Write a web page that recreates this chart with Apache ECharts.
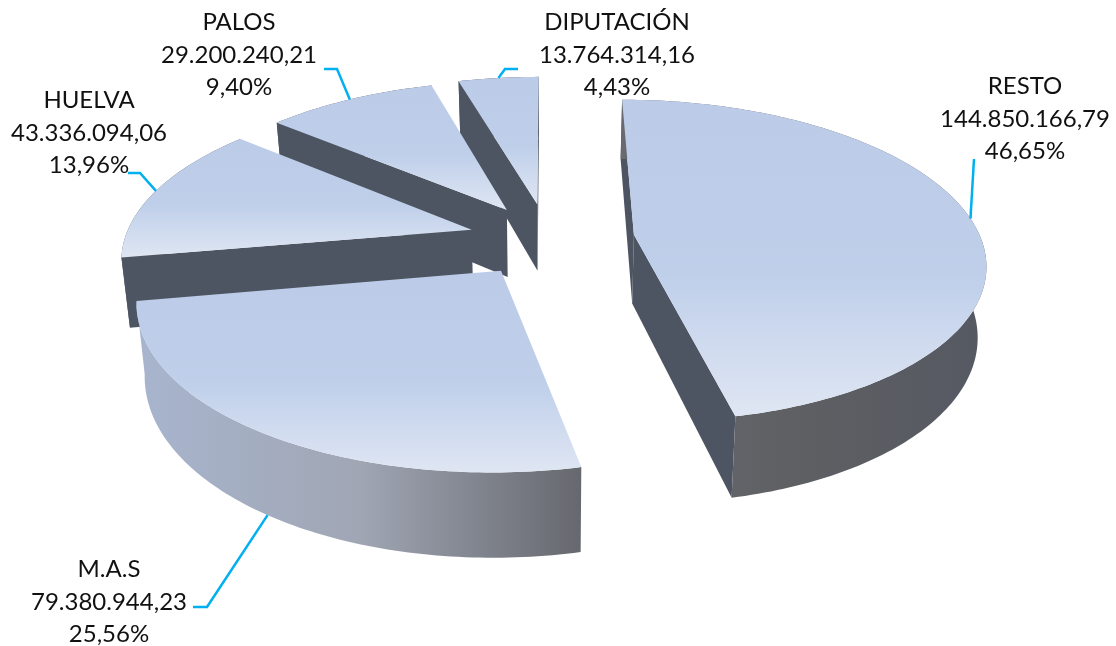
<!DOCTYPE html>
<html>
<head>
<meta charset="utf-8">
<title>Reparto por entidad</title>
<script src="https://cdn.jsdelivr.net/npm/echarts@6/dist/echarts.min.js"></script>
<style>
  html, body { margin: 0; padding: 0; background: #fff; }
  #chart { width: 1116px; height: 646px; }
</style>
</head>
<body>
<div id="chart"></div>
<script>
// clockwise from 12 o'clock
const names = ['RESTO', 'M.A.S', 'HUELVA', 'PALOS', 'DIPUTACIÓN'];
const amounts = [144850166.79, 79380944.23, 43336094.06, 29200240.21, 13764314.16];
const shares = [46.65, 25.56, 13.96, 9.40, 4.43];

// far slices first
const drawOrder = [4, 3, 2, 0, 1];
const explode = [0.25, 0.235, 0.23, 0.225, 0.23];
const wallStops = [
  ['#686a70', '#5e5f63', '#555962'],
  ['#a8b5ce', '#a0a6b4', '#66686e'],
  ['#4e5562', '#4e5562', '#4e5562'],
  ['#4e5562', '#4e5562', '#4e5562'],
  ['#4e5562', '#4e5562', '#4e5562']
];
// label centre and the elbow of its leader line, in pixels
const labelAt = [[1025, 119], [109, 602], [89, 133], [239, 55], [617, 55]];
const leaderAt = [
  [[974, 159]],
  [[193, 607], [207, 607]],
  [[128, 173], [140, 173]],
  [[324, 69], [337, 69]],
  [[518, 69], [505, 69]]
];

const CX = 548;
const CY = 239;
const RX = 347;
const RY = 158;
const PERSP = 0.16;
const DEPTH = 69;
const BOTTOM_SCALE = 0.98;
const CUT_COLOR = '#4e5562';
const LEADER_COLOR = '#00b0f0';

const total = amounts.reduce((a, b) => a + b, 0);
const angles = [];
let run = 0;
amounts.forEach(v => {
  angles.push([run / total * 360, (run + v) / total * 360]);
  run += v;
});

function money(v) {
  const parts = v.toFixed(2).split('.');
  return `${parts[0].replace(/\B(?=(\d{3})+$)/g, '.')},${parts[1]}`;
}

function project(x, y, bottom) {
  const w = 1 + PERSP * y;
  const sx = RX * x / w * (bottom ? BOTTOM_SCALE : 1);
  return [CX + sx, CY - RY * y / w + (bottom ? DEPTH / w : 0)];
}

function rimPoint(i, deg, bottom) {
  const mid = (angles[i][0] + angles[i][1]) / 2 * Math.PI / 180;
  const a = deg * Math.PI / 180;
  return project(explode[i] * Math.sin(mid) + Math.sin(a), explode[i] * Math.cos(mid) + Math.cos(a), bottom);
}

function apexPoint(i, bottom) {
  const mid = (angles[i][0] + angles[i][1]) / 2 * Math.PI / 180;
  return project(explode[i] * Math.sin(mid), explode[i] * Math.cos(mid), bottom);
}

function arcPoints(i, bottom) {
  const pts = [];
  const [a0, a1] = angles[i];
  const steps = Math.ceil(a1 - a0);
  for (let s = 0; s <= steps; s++) {
    pts.push(rimPoint(i, a0 + (a1 - a0) * s / steps, bottom));
  }
  return pts;
}

// a cut face only shows when dropping its top edge moves it out of the slice
function cutFace(i, deg) {
  const apex = apexPoint(i, false);
  const rim = rimPoint(i, deg, false);
  const inner = rimPoint(i, (angles[i][0] + angles[i][1]) / 2, false);
  const ex = rim[0] - apex[0];
  const ey = rim[1] - apex[1];
  const side = ex * (inner[1] - apex[1]) - ey * (inner[0] - apex[0]);
  if (ex * side > 0) return null;
  return {
    type: 'polygon',
    shape: { points: [apex, rim, rimPoint(i, deg, true), apexPoint(i, true)] },
    style: { fill: CUT_COLOR }
  };
}

function renderSlice(params, api) {
  const i = api.value(0);
  const [a0, a1] = angles[i];
  const top = arcPoints(i, false);
  const low = arcPoints(i, true);
  const wallFill = new echarts.graphic.LinearGradient(0, 0, 1, 0, [
    { offset: 0, color: wallStops[i][0] },
    { offset: 0.5, color: wallStops[i][1] },
    { offset: 1, color: wallStops[i][2] }
  ]);
  const topFill = new echarts.graphic.LinearGradient(0, 0, 0, 1, [
    { offset: 0, color: '#bccce8' },
    { offset: 0.55, color: '#bfcfea' },
    { offset: 1, color: '#dfe6f3' }
  ]);
  const mid = (a0 + a1) / 2;
  const leaderEnd = rimPoint(i, mid, i === 1);
  const leader = leaderAt[i].concat([leaderEnd]);
  const faces = [cutFace(i, a0), cutFace(i, a1)].filter(Boolean);
  return {
    type: 'group',
    children: faces.concat([
      {
        type: 'polygon',
        shape: { points: top.concat(low.slice().reverse()) },
        style: { fill: wallFill }
      },
      {
        type: 'polygon',
        shape: { points: [apexPoint(i, false)].concat(top) },
        style: { fill: topFill }
      },
      {
        type: 'polyline',
        z2: 50,
        shape: { points: leader },
        style: { fill: null, stroke: LEADER_COLOR, lineWidth: 2.5 }
      },
      {
        type: 'text',
        z2: 60,
        style: {
          text: `${names[i]}\n${money(amounts[i])}\n${shares[i].toFixed(2).replace('.', ',')}%`,
          x: labelAt[i][0],
          y: labelAt[i][1],
          align: 'center',
          verticalAlign: 'middle',
          fontFamily: 'Lato',
          fontSize: 24,
          lineHeight: 32.5,
          fill: '#111'
        }
      }
    ])
  };
}

const chart = echarts.init(document.getElementById('chart'));
chart.setOption({
  animation: false,
  backgroundColor: '#fff',
  series: [{
    type: 'custom',
    coordinateSystem: 'none',
    renderItem: renderSlice,
    data: drawOrder.map(i => [i])
  }]
});
</script>
</body>
</html>
